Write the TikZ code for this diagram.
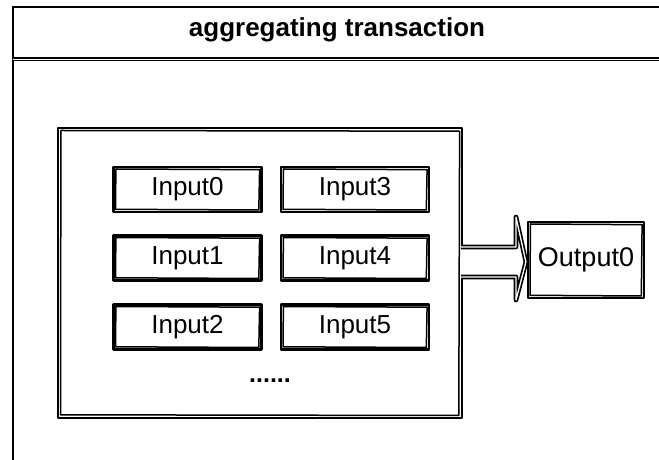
\documentclass[tikz,border=0pt]{standalone}
\usepackage{fontspec}
\setmainfont{Liberation Sans}
\usetikzlibrary{calc}
\tikzset{
  x=1pt, y=1pt,
  skbox/.style={draw=black, line width=2.2pt, rectangle, inner sep=0pt, fill=white, line join=round},
  inbox/.style={skbox, minimum width=148, minimum height=45, font=\fontsize{26}{30}\selectfont},
  innerstroke/.style={draw=black, line width=1.5pt, line join=round},
  sk/.style={draw=black, line width=1.7pt, double=white, double distance=1.3pt, line join=round},
  frameline/.style={draw=black, line width=2.2pt},
  title/.style={font=\fontsize{26}{30}\selectfont\bfseries, inner sep=0pt}
}
% second, slightly uneven stroke just inside a box's outline
\newcommand\roughin[2][3.5]{%
  \draw[innerstroke]
    ($(#2.north west)+(#1,-#1+0.4)$) -- ($(#2.north east)+(-#1+0.5,-#1-0.3)$)
    -- ($(#2.south east)+(-#1-0.3,#1-0.4)$) -- ($(#2.south west)+(#1-0.4,#1+0.3)$) -- cycle;}
\begin{document}
\begin{tikzpicture}
\useasboundingbox (0,0) rectangle (659,460);
\fill[white] (0,0) rectangle (659,460);

% outer swimlane frame with header strip
\coordinate (ftl) at (13,453);
\coordinate (ftr) at (659,453);
\coordinate (fsl) at (13,401);
\coordinate (fsr) at (659,401);
\coordinate (fbl) at (13,0);
\draw[frameline] (ftr) -- (ftl) -- (fbl);
\draw[sk, line width=1.6pt, double distance=0.7pt] (fsl) -- (fsr);
\node[title, anchor=base] (title) at (337,423) {aggregating transaction};

% group of inputs
\node[skbox, minimum width=404, minimum height=290] (grp) at (260,187) {};
\roughin[4]{grp}
\node[inbox] (in0) at (187.5,270.5) {Input0};
\node[inbox] (in1) at (187.5,202) {Input1};
\node[inbox] (in2) at (187.5,133) {Input2};
\node[inbox] (in3) at (355,270.5) {Input3};
\node[inbox] (in4) at (355,202) {Input4};
\node[inbox] (in5) at (355,133) {Input5};
\foreach \n in {in0,in1,in2,in3,in4,in5} {\roughin{\n}}
\node[font=\fontsize{25}{29}\selectfont\bfseries, inner sep=0pt, anchor=base] (dots) at (270,77) {......};

% output
\node[skbox, minimum width=116, minimum height=76, font=\fontsize{27}{31}\selectfont] (out) at (586,200) {Output0};
\roughin{out}

% block arrow from the group to the output
\coordinate (tip) at ($(out.west)+(-1,-2)$);
\draw[sk, fill=white]
  ($(grp.east)+(-2,26)$) -- (516,213) -- (516,243) -- (tip) -- (516,160) -- (516,183) -- ($(grp.east)+(-2,-4)$);
\end{tikzpicture}
\end{document}
